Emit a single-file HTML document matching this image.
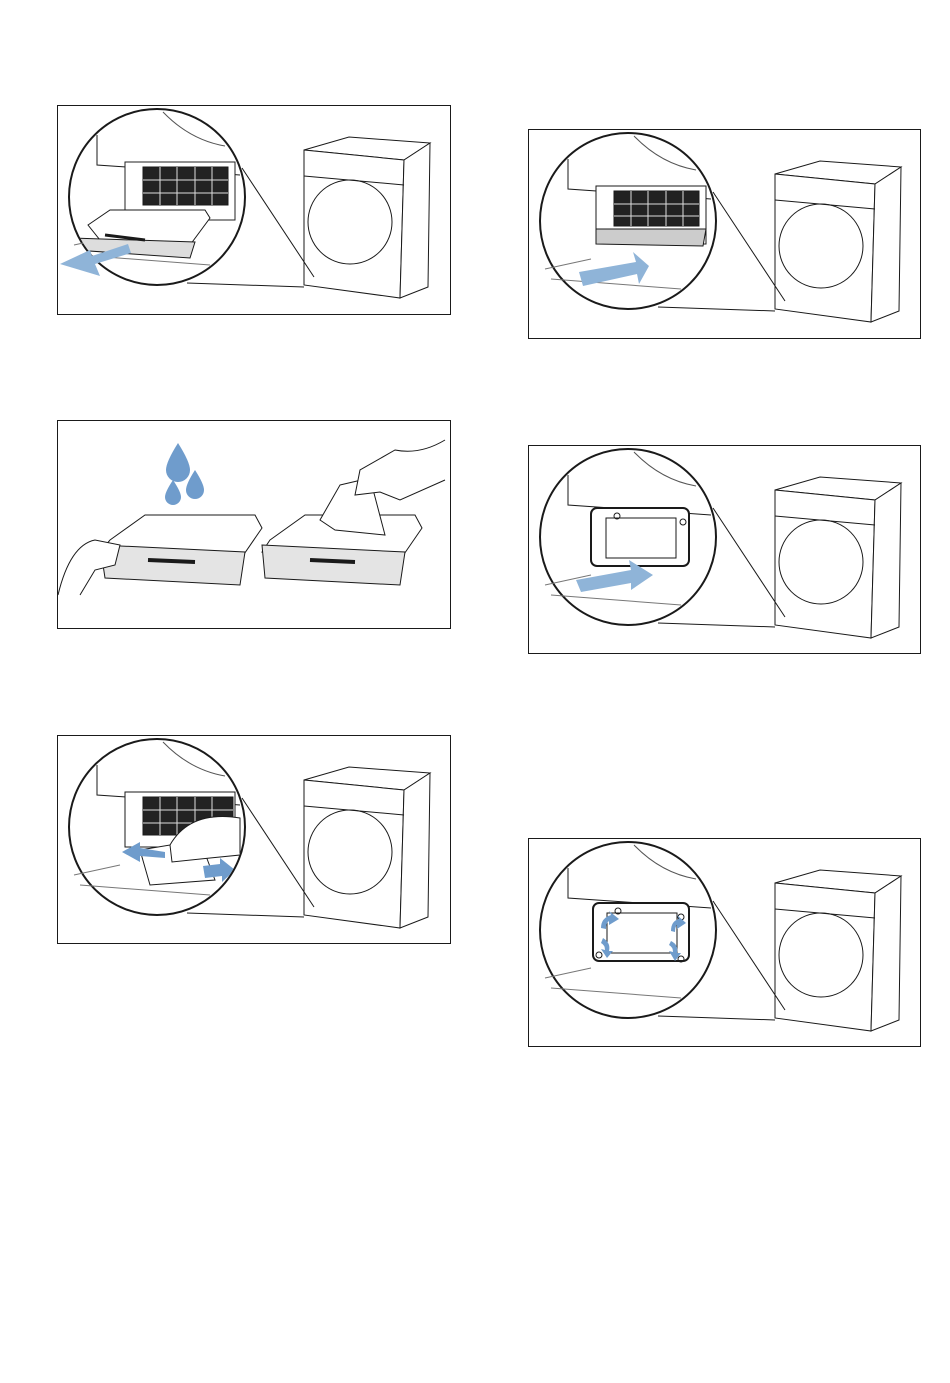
<!DOCTYPE html>
<html><head><meta charset="utf-8"><style>
html,body{margin:0;padding:0;background:#fff;width:950px;height:1383px;overflow:hidden}
svg{display:block}
</style></head><body>
<svg width="950" height="1383" viewBox="0 0 950 1383" xmlns="http://www.w3.org/2000/svg" fill="none" stroke="#1a1a1a" stroke-width="1">
<defs>
<g id="dryer">
  <path d="M304,150 L349,137 L430,143 L404,160 Z" fill="#fff"/>
  <path d="M304,150 L404,160 L400,298 L304,285 Z" fill="#fff"/>
  <path d="M404,160 L430,143 L428,287 L400,298 Z" fill="#fff"/>
  <path d="M304,176 L404,185"/>
  <circle cx="350" cy="222" r="42"/>
</g>
<g id="zoomc">
  <circle cx="157" cy="197" r="88" fill="#fff" stroke-width="2"/>
  <path d="M242,168 L314,277"/>
  <path d="M187,283 L304,287"/>
  <path d="M163,112 Q190,140 225,146" stroke="#555"/>
  <path d="M97,135 L97,165 L240,175"/>
  <path d="M74,245 L120,235 M80,255 L210,265" stroke="#777"/>
</g>
<clipPath id="cc"><circle cx="157" cy="197" r="87"/></clipPath>
</defs>

<!-- Box 1 -->
<rect x="57.5" y="105.5" width="393" height="209"/>
<use href="#dryer"/>
<use href="#zoomc"/>
<g clip-path="url(#cc)">
  <rect x="125" y="162" width="110" height="58" fill="#fff" stroke="#222"/>
  <g fill="#222"><rect x="143" y="167" width="85" height="38"/></g>
  <g stroke="#ddd"><path d="M160,167V205M177,167V205M195,167V205M212,167V205M143,180H228M143,193H228"/></g>
  <path d="M88,225 L110,210 L205,210 L210,218 L190,245 L100,240 Z" fill="#fff"/>
  <path d="M72,238 L195,242 L190,258 L75,250 Z" fill="#ddd"/>
  <path d="M105,235 L145,240" stroke-width="3"/>
</g>
<path d="M60,264 L90,250 L92,256 L128,244 L131,253 L95,264 L100,276 Z" fill="#8fb4d8" stroke="none"/>

<!-- Box 2 -->
<rect x="528.5" y="129.5" width="392" height="209"/>
<g transform="translate(471,24)">
<use href="#dryer"/>
<use href="#zoomc"/>
<g clip-path="url(#cc)">
  <rect x="125" y="162" width="110" height="58" fill="#fff"/>
  <rect x="143" y="167" width="85" height="35" fill="#222"/>
  <g stroke="#ddd"><path d="M160,167V202M177,167V202M195,167V202M212,167V202M143,180H228M143,192H228"/></g>
  <path d="M125,205 L235,205 L232,222 L125,220 Z" fill="#ccc"/>
  <path d="M108,248 L165,238 L162,228 L178,242 L168,260 L166,250 L112,262 Z" fill="#8fb4d8" stroke="none"/>
</g>
</g>

<!-- Box 3 -->
<rect x="57.5" y="420.5" width="393" height="208"/>
<g fill="#6f9ccc" stroke="none">
  <path d="M178,443 Q166,462 166,470 A12,12 0 0 0 190,470 Q190,462 178,443Z"/>
  <path d="M173,480 Q165,492 165,497 A8,8 0 0 0 181,497 Q181,492 173,480Z"/>
  <path d="M195,470 Q186,484 186,490 A9,9 0 0 0 204,490 Q204,484 195,470Z"/>
</g>
<path d="M110,540 L145,515 L255,515 L262,528 L240,560 L100,552 Z" fill="#fff"/>
<path d="M100,545 L245,552 L240,585 L105,578 Z" fill="#e4e4e4"/>
<path d="M148,560 L195,562" stroke-width="4"/>
<path d="M58,595 Q70,545 95,540 L120,545 L115,565 L95,570 L80,595" fill="#fff"/>
<path d="M270,540 L305,515 L415,515 L422,528 L400,560 L262,552 Z" fill="#fff"/>
<path d="M262,545 L405,552 L400,585 L265,578 Z" fill="#e4e4e4"/>
<path d="M310,560 L355,562" stroke-width="4"/>
<path d="M340,485 L370,478 L385,535 L335,530 L320,520 Z" fill="#fff"/>
<path d="M445,440 Q420,455 395,450 L360,470 L355,495 L380,492 L400,500 L445,480" fill="#fff"/>

<!-- Box 4 -->
<rect x="528.5" y="445.5" width="392" height="208"/>
<g transform="translate(471,340)">
<use href="#dryer"/>
<use href="#zoomc"/>
<g clip-path="url(#cc)">
  <rect x="120" y="168" width="98" height="58" rx="6" fill="#fff" stroke-width="2"/>
  <rect x="135" y="178" width="70" height="40" fill="#fff"/>
  <circle cx="146" cy="176" r="3"/><circle cx="212" cy="182" r="3"/>
  <path d="M105,240 L160,230 L158,220 L182,235 L160,250 L160,243 L110,252 Z" fill="#8fb4d8" stroke="none"/>
</g>
</g>

<!-- Box 5 -->
<rect x="57.5" y="735.5" width="393" height="208"/>
<g transform="translate(0,630)">
<use href="#dryer"/>
<use href="#zoomc"/>
<g clip-path="url(#cc)">
  <rect x="125" y="162" width="110" height="55" fill="#fff"/>
  <rect x="143" y="167" width="90" height="38" fill="#222"/>
  <g stroke="#ddd"><path d="M160,167V205M177,167V205M195,167V205M212,167V205M143,180H233M143,193H233"/></g>
  <path d="M140,220 L200,210 L215,250 L150,255 Z" fill="#fff"/>
  <path d="M170,215 Q190,180 240,188 L240,225 L210,228 L172,232 Z" fill="#fff"/>
  <path d="M122,222 L140,212 L140,218 L165,222 L165,228 L140,226 L140,232 Z" fill="#6f9ccc" stroke="none"/>
  <path d="M203,236 L220,234 L220,228 L235,240 L222,252 L222,246 L205,248 Z" fill="#6f9ccc" stroke="none"/>
</g>
</g>

<!-- Box 6 -->
<rect x="528.5" y="838.5" width="392" height="208"/>
<g transform="translate(471,733)">
<use href="#dryer"/>
<use href="#zoomc"/>
<g clip-path="url(#cc)">
  <rect x="122" y="170" width="96" height="58" rx="6" fill="#fff" stroke-width="2"/>
  <rect x="136" y="180" width="70" height="40" fill="#fff"/>
  <circle cx="147" cy="178" r="3"/><circle cx="210" cy="184" r="3"/>
  <circle cx="128" cy="222" r="3"/><circle cx="210" cy="226" r="3"/>
  <g fill="#6f9ccc" stroke="none">
    <path d="M130,195 Q130,185 140,182 L138,178 L148,186 L138,192 L138,188 Q135,190 135,196Z"/>
    <path d="M132,205 Q140,210 138,218 L142,218 L136,225 L130,216 L134,217 Q134,212 130,210Z"/>
    <path d="M200,198 Q200,188 208,186 L206,182 L215,190 L206,196 L206,192 Q204,194 204,199Z"/>
    <path d="M200,208 Q208,212 206,220 L210,220 L204,228 L198,218 L202,219 Q202,214 198,212Z"/>
  </g>
</g>
</g>
</svg>
</body></html>
